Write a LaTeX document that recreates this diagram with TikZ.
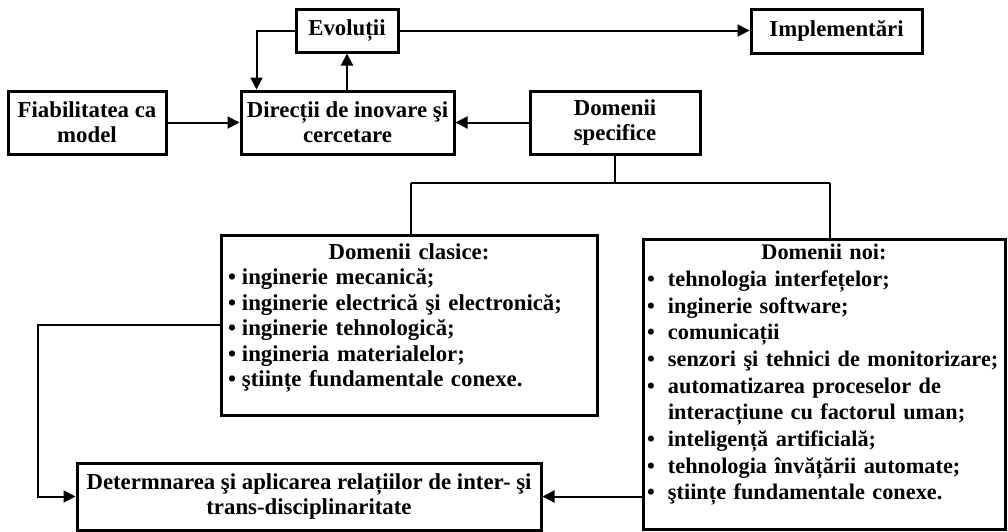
\documentclass[tikz,border=0pt]{standalone}
\usepackage{fontspec}
\setmainfont{Liberation Serif}
\usetikzlibrary{arrows.meta,calc}
\newcommand\itm[2]{\par\noindent\hangindent=#1\hangafter=1\makebox[#1][l]{\textbullet}#2\par}
\begin{document}
\begin{tikzpicture}[x=1pt,y=-1pt,
  box/.style={draw, line width=3pt, inner sep=0pt, align=center,
    font=\bfseries\fontsize{22.8}{25.3}\selectfont},
  listtext/.style={inner sep=0pt, align=left, anchor=north},
  link/.style={line width=2pt},
  arr/.style={link, -{Triangle[length=12pt,width=12pt]}}]
\useasboundingbox (0,0) rectangle (1008,531);

\node[box, minimum width=102, minimum height=43] (evo) at (347,30.5) {Evoluții};
\node[box, minimum width=171, minimum height=44] (impl) at (836.5,31) {Implementări};
\node[box, minimum width=158, minimum height=63] (fiab) at (87,122.5) {Fiabilitatea ca\\model};
\node[box, minimum width=213, minimum height=63] (dir) at (347.5,122.5) {Direcții de inovare şi\\cercetare};
\node[box, minimum width=170, minimum height=63] (spec) at (615,122.5) {Domenii\\specifice};

\node[box, minimum width=376, minimum height=180] (cla) at (409,325) {};
\node[listtext, text width=362, font=\bfseries\fontsize{22.8}{25.4}\selectfont] (clatext) at (409,243.5) {%
\hyphenpenalty=10000
\noindent\makebox[\linewidth]{Domenii clasice:}\par
\itm{14pt}{inginerie mecanică;}
\itm{14pt}{inginerie electrică şi electronică;}
\itm{14pt}{inginerie tehnologică;}
\itm{14pt}{ingineria materialelor;}
\itm{14pt}{ştiințe fundamentale conexe.}};

\node[box, minimum width=362, minimum height=290] (noi) at (824,384) {};
\node[listtext, text width=362, font=\bfseries\fontsize{22.3}{26.7}\selectfont] (noitext) at (828,244) {%
\hyphenpenalty=10000
\noindent\makebox[\linewidth]{\hspace*{-8pt}Domenii noi:}\par
\itm{21pt}{tehnologia interfețelor;}
\itm{21pt}{inginerie software;}
\itm{21pt}{comunicații}
\itm{21pt}{senzori şi tehnici de monitorizare;}
\itm{21pt}{automatizarea proceselor de\newline interacțiune cu factorul uman;}
\itm{21pt}{inteligență artificială;}
\itm{21pt}{tehnologia învățării automate;}
\itm{21pt}{ştiințe fundamentale conexe.}};

\node[box, minimum width=464, minimum height=67] (det) at (309,496.5) {Determnarea şi aplicarea relațiilor de inter- şi\\trans-disciplinaritate};

% top connectors
\draw[arr] (dir.north -| evo.south) -- (evo.south);
\coordinate (dl) at ([xshift=17pt]dir.north west);
\draw[arr] (evo.west) -| (dl);
\draw[arr] (evo.east) -- (evo.east -| impl.west);
\draw[arr] (fiab.east) -- (dir.west);
\draw[arr] (spec.west) -- (dir.east);

% tree
\coordinate (jl) at (411,183);
\coordinate (jr) at (830,183);
\draw[link] (spec.south) -- (spec.south |- jl);
\draw[link] (jl) -- (jr);
\draw[link] (jl) -- (jl |- cla.north);
\draw[link] (jr) -- (jr |- noi.north);

% bottom connectors
\coordinate (lb) at (38,0);
\draw[arr] (cla.west) -- (cla.west -| lb) |- (det.west);
\draw[arr] (noi.west |- det.east) -- (det.east);
\end{tikzpicture}
\end{document}
